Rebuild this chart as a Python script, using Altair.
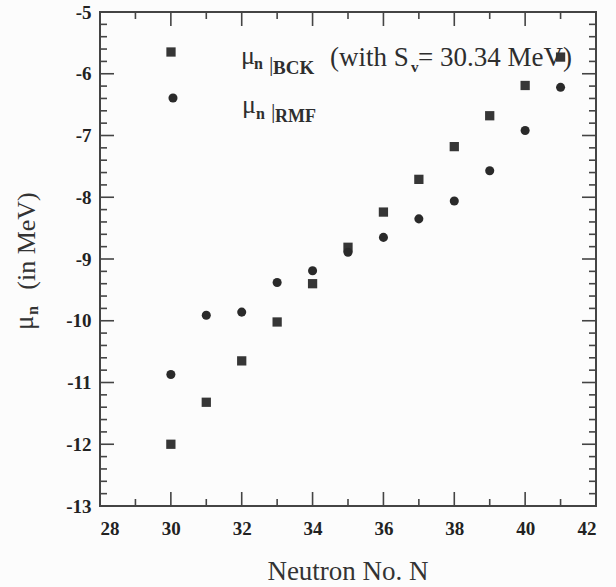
import altair as alt
import pandas as pd

# ---- data ----
neutron_n = [30, 31, 32, 33, 34, 35, 36, 37, 38, 39, 40, 41]
mu_bck = [-12.00, -11.32, -10.65, -10.02, -9.40, -8.81, -8.24, -7.71, -7.18, -6.68, -6.19, -5.73]
mu_rmf = [-10.87, -9.91, -9.86, -9.38, -9.19, -8.89, -8.65, -8.35, -8.06, -7.57, -6.92, -6.22]

x_labels = [28, 30, 32, 34, 36, 38, 40, 42]
x_minor = [29, 31, 33, 35, 37, 39, 41]
y_labels = [-13, -12, -11, -10, -9, -8, -7, -6, -5]
y_minor = [round(-13 + 0.2 * k, 2) for k in range(41) if k % 5 != 0]

SERIF = "Liberation Serif"
INK = "#2e2e2e"
W, H = 496, 494

xs = alt.Scale(domain=[28, 42], nice=False, zero=False)
ys = alt.Scale(domain=[-13, -5], nice=False, zero=False)

bck = pd.DataFrame({"N": neutron_n, "mu": mu_bck})
rmf = pd.DataFrame({"N": neutron_n, "mu": mu_rmf})

hyphen_expr = "datum.value < 0 ? '-' + abs(datum.value) : '' + datum.value"

x_axis = alt.Axis(values=x_labels, labelExpr=hyphen_expr, title=None, domain=False, ticks=False,
                  tickSize=0, grid=False, labelFont=SERIF, labelFontSize=19,
                  labelFontWeight="bold", labelColor="#222", labelPadding=13)
y_axis = alt.Axis(values=y_labels, labelExpr=hyphen_expr, title=None, domain=False, ticks=False,
                  tickSize=0, grid=False, labelFont=SERIF, labelFontSize=19,
                  labelFontWeight="bold", labelColor="#222", labelPadding=9)

squares = alt.Chart(bck).mark_point(shape="square", filled=True, size=86, color="#363636",
                                    opacity=1).encode(
    x=alt.X("N:Q", scale=xs, axis=x_axis),
    y=alt.Y("mu:Q", scale=ys, axis=y_axis),
)
circles = alt.Chart(rmf).mark_point(shape="circle", filled=True, size=82, color="#2a2a2a",
                                    opacity=1).encode(
    x=alt.X("N:Q", scale=xs, axis=x_axis),
    y=alt.Y("mu:Q", scale=ys, axis=y_axis),
)


def xticks(vals, length):
    df = pd.DataFrame({"v": vals})
    base = alt.Chart(df).mark_rule(color="#444", strokeWidth=1.6)
    bottom = base.encode(x=alt.X("v:Q", scale=xs, axis=x_axis), y=alt.value(H), y2=alt.value(H - length))
    top = base.encode(x=alt.X("v:Q", scale=xs, axis=x_axis), y=alt.value(0), y2=alt.value(length))
    return [bottom, top]


def yticks(vals, length):
    df = pd.DataFrame({"v": vals})
    base = alt.Chart(df).mark_rule(color="#444", strokeWidth=1.6)
    left = base.encode(y=alt.Y("v:Q", scale=ys, axis=y_axis), x=alt.value(0), x2=alt.value(length))
    right = base.encode(y=alt.Y("v:Q", scale=ys, axis=y_axis), x=alt.value(W), x2=alt.value(W - length))
    return [left, right]


def label(txt, x, y, size, bold=False, angle=0, align="left", color=INK):
    return alt.Chart(pd.DataFrame({"t": [txt]})).mark_text(
        align=align, baseline="alphabetic", font=SERIF, fontSize=size,
        fontWeight="bold" if bold else "normal", angle=angle, color=color
    ).encode(x=alt.value(x), y=alt.value(y), text="t:N")


def marker(shape, x, y, size, color):
    return alt.Chart(pd.DataFrame({"t": [shape]})).mark_point(
        shape=shape, filled=True, size=size, color=color, opacity=1
    ).encode(x=alt.value(x), y=alt.value(y))


layers = [squares, circles]
layers += xticks(x_labels, 14) + xticks(x_minor, 7)
layers += yticks(y_labels, 14) + yticks(y_minor, 7)

# legend
layers += [
    marker("square", 71, 40, 86, "#363636"),
    marker("circle", 73, 86, 82, "#2a2a2a"),
    label("μ", 141, 52, 26),
    label("n", 154, 57, 16, bold=True),
    label("|", 169, 59, 22),
    label("BCK", 173, 62, 19, bold=True),
    label("(with S", 230, 54, 27),
    label("v", 311, 60, 15, bold=True),
    label("= 30.34 MeV)", 318, 54, 27),
    label("μ", 142, 101, 26),
    label("n", 156, 107, 16, bold=True),
    label("|", 171, 106, 22),
    label("RMF", 175, 110, 18, bold=True),
]

# axis titles
layers += [
    label("Neutron No. N", W / 2, 568, 27, align="center", color="#333"),
    label("(in MeV)", -65, 229, 26, angle=270, align="center", color="#333"),
    label("μ", -67, 318, 27, angle=270, color="#333"),
    label("n", -62, 303, 16, bold=True, angle=270, color="#333"),
]

chart = alt.layer(*layers).properties(
    width=W, height=H,
    autosize="none",
    padding={"left": 100, "top": 12, "right": 20, "bottom": 81},
    background="#fcfcfc",
).configure_view(stroke="#444", strokeWidth=2)

chart.save("out.html", embed_options={"renderer": "svg", "actions": False})
